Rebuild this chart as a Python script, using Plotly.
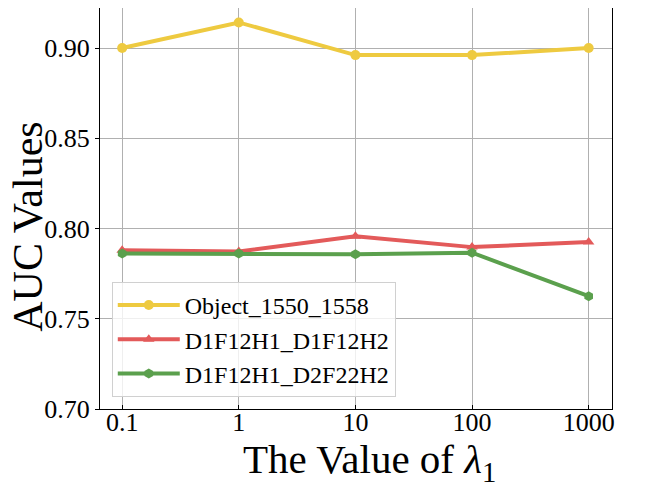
import plotly.graph_objects as go

# lambda_1 values on the x axis (evenly spaced categories)
lambda_labels = ["0.1", "1", "10", "100", "1000"]

auc_object = [0.900, 0.9142, 0.8961, 0.8961, 0.9000]
auc_d1_d1 = [0.7879, 0.7873, 0.7957, 0.7897, 0.7926]
auc_d1_d2 = [0.7862, 0.7862, 0.7857, 0.7866, 0.7625]

series_names = ["Object_1550_1558", "D1F12H1_D1F12H2", "D1F12H1_D2F22H2"]
series_colors = ["#EECA40", "#E35A5A", "#5BA04D"]
series_symbols = ["circle", "triangle-up", "hexagon"]

idx = list(range(len(lambda_labels)))
fig = go.Figure()

for name, vals, col, sym in zip(series_names, [auc_object, auc_d1_d1, auc_d1_d2],
                                series_colors, series_symbols):
    fig.add_trace(go.Scatter(
        x=idx, y=vals, name=name, mode="lines+markers",
        line=dict(color=col, width=4),
        marker=dict(color=col, symbol=sym, size=10),
    ))

serif = "Liberation Serif"
# page body has an 8px margin, so the figure is a bit smaller than the window
fig.update_layout(
    width=639, height=480,
    margin=dict(l=92, r=35, t=0, b=79),
    plot_bgcolor="white", paper_bgcolor="white",
    font=dict(family=serif, color="black", size=22),
    showlegend=True,
    legend=dict(
        x=0.023, y=0.03, xanchor="left", yanchor="bottom",
        bgcolor="rgba(255,255,255,0.8)", bordercolor="#d0d0d0", borderwidth=1,
        font=dict(family=serif, size=24, color="black"),
        itemwidth=62, tracegroupgap=0,
    ),
    xaxis=dict(
        tickvals=idx, ticktext=lambda_labels, range=[-0.19, 4.2],
        showgrid=True, gridcolor="#b0b0b0", gridwidth=1,
        showline=True, linecolor="black", linewidth=1.2, mirror=True,
        ticks="inside", ticklen=4, tickcolor="black", ticklabelstandoff=-10,
        tickfont=dict(family=serif, size=26, color="black"), zeroline=False,
    ),
    yaxis=dict(
        range=[0.70, 0.9222], tickvals=[0.70, 0.75, 0.80, 0.85, 0.90],
        tickformat=".2f",
        showgrid=True, gridcolor="#b0b0b0", gridwidth=1,
        showline=True, linecolor="black", linewidth=1.2, mirror=True,
        ticks="outside", ticklen=4, tickcolor="black",
        tickfont=dict(family=serif, size=26, color="black"), zeroline=False,
    ),
)

# axis titles placed as annotations to match the reference offsets
fig.add_annotation(text="The Value of <i>λ</i><sub>1</sub>", xref="paper", yref="paper",
                   x=0.527, y=-0.132, xanchor="center", yanchor="middle", showarrow=False,
                   font=dict(family=serif, size=41, color="black"))
fig.add_annotation(text="AUC Values", xref="paper", yref="paper", textangle=-90,
                   x=-0.141, y=0.454, xanchor="center", yanchor="middle", showarrow=False,
                   font=dict(family=serif, size=42, color="black"))

fig.write_html("out.html")
